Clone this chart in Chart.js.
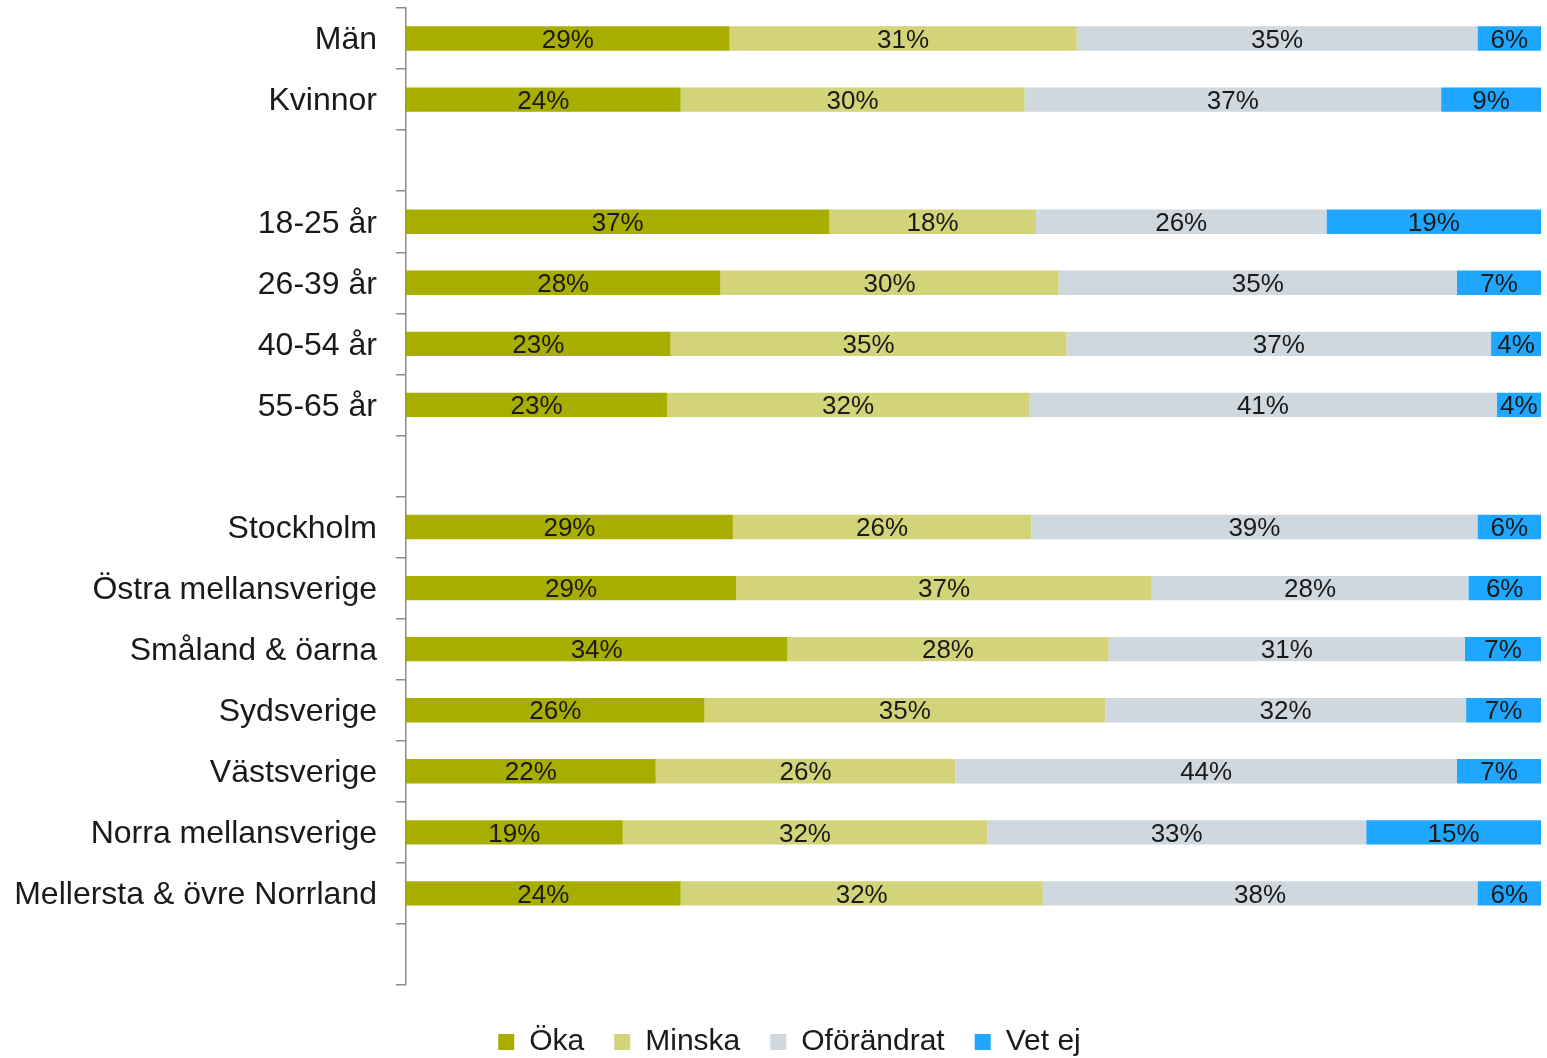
<!DOCTYPE html>
<html lang="sv">
<head>
<meta charset="utf-8">
<title>Öka / Minska</title>
<script src="https://cdn.jsdelivr.net/npm/chart.js@4.4.0/dist/chart.umd.min.js"></script>
<style>
    html, body { margin: 0; padding: 0; background: #fff; }
    #contenedor { width: 1547px; height: 1058px; }
</style>
</head>
<body>
<div id="contenedor"><canvas id="grafico"></canvas></div>
<script>
// Categorías (las vacías son los huecos entre grupos)
const categorias = [
    'Män', 'Kvinnor', '',
    '18-25 år', '26-39 år', '40-54 år', '55-65 år', '',
    'Stockholm', 'Östra mellansverige', 'Småland & öarna', 'Sydsverige',
    'Västsverige', 'Norra mellansverige', 'Mellersta & övre Norrland', ''
];

// Valores en %
const oka        = [28.5, 24.2, null, 37.3, 27.7, 23.3, 23.0, null, 28.8, 29.1, 33.6, 26.3, 22.0, 19.1, 24.2, null];
const minska     = [30.6, 30.3, null, 18.2, 29.8, 34.9, 31.9, null, 26.3, 36.6, 28.3, 35.3, 26.4, 32.1, 31.9, null];
const oforandrat = [35.3, 36.7, null, 25.6, 35.1, 37.4, 41.2, null, 39.3, 27.9, 31.4, 31.8, 44.2, 33.4, 38.3, null];
const vetEj      = [5.6, 8.8, null, 18.9, 7.4, 4.4, 3.9, null, 5.6, 6.4, 6.7, 6.6, 7.4, 15.4, 5.6, null];

const nombresSeries = ['Öka', 'Minska', 'Oförändrat', 'Vet ej'];
const colores = ['#A8AE00', '#D3D379', '#CFD8DE', '#1FA7FF'];

const fuente = "'Liberation Sans', Arial, sans-serif";

// Plugin para escribir el porcentaje en el centro de cada tramo
const pluginEtiquetas = {
    id: 'etiquetas',
    afterDatasetsDraw: (chart) => {
        const ctx = chart.ctx;
        ctx.save();
        ctx.font = '26px ' + fuente;
        ctx.fillStyle = '#1a1a1a';
        ctx.textAlign = 'center';
        ctx.textBaseline = 'middle';
        chart.data.datasets.forEach((ds, i) => {
            const meta = chart.getDatasetMeta(i);
            meta.data.forEach((barra, j) => {
                const v = ds.data[j];
                if (v === null || v === undefined) return;
                const x = (barra.x + barra.base) / 2;
                ctx.fillText(Math.round(v) + '%', x, barra.y + 2);
            });
        });
        ctx.restore();
    }
};

// Plugin para mover la leyenda un poco a la derecha (como en el original)
const pluginLeyenda = {
    id: 'moverLeyenda',
    afterLayout: (chart) => {
        chart.legend.left += 19;
        chart.legend.right += 19;
    }
};

const series = [oka, minska, oforandrat, vetEj];

new Chart(document.getElementById('grafico'), {
    type: 'bar',
    data: {
        labels: categorias,
        datasets: series.map((datos, i) => ({
            label: nombresSeries[i],
            data: datos,
            backgroundColor: colores[i],
            borderWidth: 0,
            categoryPercentage: 0.8,
            barPercentage: 0.5
        }))
    },
    options: {
        indexAxis: 'y',
        responsive: true,
        maintainAspectRatio: false,
        animation: false,
        layout: { padding: { top: 8, right: 6, left: 0, bottom: -9 } },
        plugins: {
            legend: {
                position: 'bottom',
                labels: {
                    font: { family: fuente, size: 30 },
                    color: '#1a1a1a',
                    boxWidth: 16,
                    boxHeight: 16,
                    padding: 30
                }
            },
            tooltip: { enabled: false }
        },
        scales: {
            x: {
                stacked: true,
                min: 0,
                max: 100,
                ticks: { display: false },
                grid: { display: false },
                border: { display: false },
                afterFit: (escala) => { escala.height = 12; }
            },
            y: {
                stacked: true,
                offset: true,
                ticks: {
                    font: { family: fuente, size: 32 },
                    color: '#1a1a1a',
                    padding: 19,
                    labelOffset: 2
                },
                grid: {
                    offset: true,
                    drawOnChartArea: false,
                    drawTicks: true,
                    tickLength: 10,
                    color: '#8c8c8c',
                    lineWidth: 1.5
                },
                border: { display: true, color: '#8c8c8c', width: 1.5 },
                afterFit: (escala) => {
                    // ancho fijo del eje y sin margen extra arriba/abajo
                    escala.width = 406;
                    escala.paddingTop = 0;
                    escala.paddingBottom = 0;
                }
            }
        }
    },
    plugins: [pluginEtiquetas, pluginLeyenda]
});
</script>
</body>
</html>
